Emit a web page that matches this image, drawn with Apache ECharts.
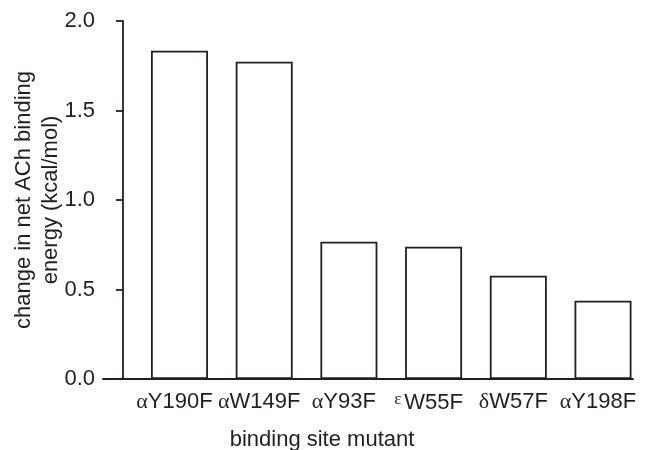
<!DOCTYPE html>
<html><head><meta charset="utf-8">
<script src="https://cdn.jsdelivr.net/npm/echarts@6/dist/echarts.min.js"></script>
<style>html,body{margin:0;padding:0;background:#fff}#c{width:654px;height:450px}</style>
</head><body><div id="c"></div>
<script>
var categories = ['αY190F', 'αW149F', 'αY93F', 'εW55F', 'δW57F', 'αY198F'];
var values = [1.834, 1.773, 0.767, 0.739, 0.577, 0.437];
var yTicks = [0.0, 0.5, 1.0, 1.5, 2.0];
var xTitle = 'binding site mutant';
var yTitle = 'change in net ACh binding\nenergy (kcal/mol)';

var ink = '#231f20';
var font = 'Liberation Sans, Arial, sans-serif';
var chart = echarts.init(document.getElementById('c'), null, {renderer: 'canvas'});
var idx = categories.map(function (c, i) { return i; });
chart.setOption({
  animation: false,
  grid: {left: 103, right: 21, top: 21, bottom: 71, containLabel: false, outerBoundsMode: 'none'},
  xAxis: {
    type: 'value', min: -0.903, max: 5.354,
    axisLine: {show: true, onZero: false, lineStyle: {color: ink, width: 1.8}},
    axisTick: {show: false},
    splitLine: {show: false},
    axisLabel: {
      customValues: idx, margin: 12, color: ink, fontFamily: font, fontSize: 22,
      padding: [0, 10, 0, 0],
      formatter: function (v) {
        var s = categories[Math.round(v)];
        var p = s.charAt(0), rest = s.slice(1);
        if (p === 'ε') return '{e|' + p + '}{n|' + rest + '}';
        return '{g|' + p + '}{n|' + rest + '}';
      },
      rich: {
        g: {fontFamily: 'Liberation Serif, DejaVu Serif, serif', fontSize: 22, color: ink},
        e: {fontFamily: 'Liberation Serif, DejaVu Serif, serif', fontSize: 17, color: ink, padding: [0, 3, 7, 0]},
        n: {fontFamily: font, fontSize: 22, color: ink}
      }
    },
    name: xTitle, nameLocation: 'middle', nameGap: 50, nameMoveOverlap: false,
    nameTextStyle: {color: ink, fontFamily: font, fontSize: 22, padding: [0, 92, 0, 0]}
  },
  yAxis: {
    type: 'value', min: yTicks[0], max: yTicks[yTicks.length - 1], interval: 0.5,
    offset: -20,
    axisLine: {show: true, onZero: false, lineStyle: {color: ink, width: 1.8}},
    axisTick: {show: true, inside: false, length: 7, lineStyle: {color: ink, width: 1.8}},
    splitLine: {show: false},
    axisLabel: {margin: 28, color: ink, fontFamily: font, fontSize: 22,
      formatter: function (v) { return v.toFixed(1); }},
    name: yTitle, nameLocation: 'middle', nameGap: 59, nameRotate: 90, nameMoveOverlap: false,
    nameTextStyle: {color: ink, fontFamily: font, fontSize: 22, lineHeight: 27, align: 'center'}
  },
  series: [{
    type: 'bar',
    data: values.map(function (v, i) { return [i, v]; }),
    barWidth: 57,
    itemStyle: {color: '#fff', borderColor: ink, borderWidth: 1.8}
  }]
});
</script></body></html>
